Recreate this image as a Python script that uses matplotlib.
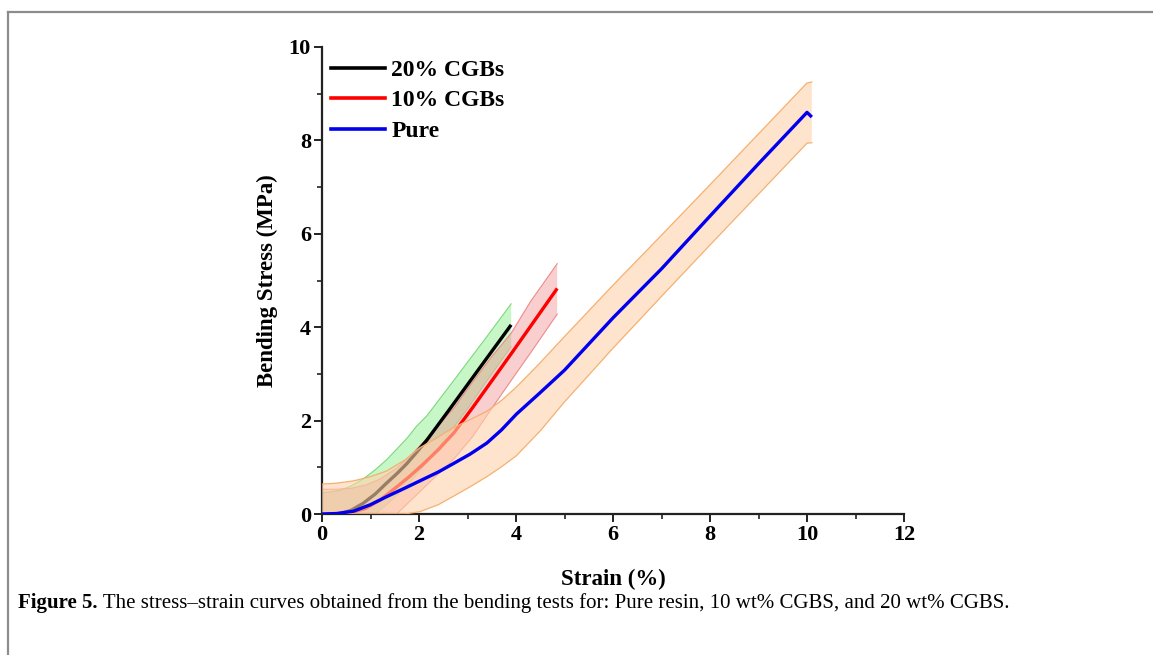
import matplotlib
matplotlib.use("Agg")
import matplotlib.pyplot as plt
from matplotlib.lines import Line2D
import numpy as np

# ---------------- data ----------------
pure_x = [0, 0.3, 0.65, 1.0, 1.33, 1.7, 2.02, 2.4, 2.71, 3.05, 3.4, 3.7, 4.01, 4.5, 5.0, 6.0, 7.0, 8.0, 9.0, 10.0, 10.1]
pure_y = [0, 0.01, 0.06, 0.2, 0.37, 0.55, 0.71, 0.9, 1.08, 1.28, 1.52, 1.8, 2.14, 2.6, 3.08, 4.2, 5.25, 6.38, 7.5, 8.6, 8.5]
pure_hi = [0.64, 0.66, 0.71, 0.8, 0.92, 1.15, 1.42, 1.65, 1.85, 2.02, 2.2, 2.43, 2.72, 3.24, 3.8, 4.9, 5.97, 7.05, 8.14, 9.23, 9.25]
pure_lo = [0, 0, 0, 0, 0, 0, 0.05, 0.2, 0.38, 0.58, 0.8, 1.01, 1.25, 1.78, 2.4, 3.55, 4.66, 5.76, 6.85, 7.94, 7.95]

c10_x = [0, 0.3, 0.6, 0.9, 1.2, 1.54, 1.8, 2.1, 2.4, 2.72, 3.1, 3.5, 3.9, 4.3, 4.85]
c10_y = [0, 0, 0.03, 0.12, 0.3, 0.58, 0.8, 1.08, 1.38, 1.74, 2.27, 2.85, 3.43, 4.02, 4.83]
c10_hi = [0.53, 0.53, 0.55, 0.62, 0.75, 0.98, 1.22, 1.55, 1.9, 2.27, 2.82, 3.37, 3.87, 4.55, 5.36]
c10_lo = [0, 0, 0, 0, 0, 0, 0.26, 0.56, 0.86, 1.18, 1.65, 2.26, 2.86, 3.45, 4.28]

c20_x = [0, 0.35, 0.6, 0.85, 1.1, 1.33, 1.55, 1.75, 1.95, 2.16, 2.6, 3.0, 3.4, 3.9]
c20_y = [0, 0, 0.08, 0.23, 0.43, 0.66, 0.87, 1.08, 1.32, 1.58, 2.2, 2.77, 3.34, 4.05]
c20_hi = [0.45, 0.5, 0.6, 0.75, 0.95, 1.16, 1.4, 1.62, 1.88, 2.1, 2.7, 3.25, 3.8, 4.5]
c20_lo = [0, 0, 0, 0, 0, 0.2, 0.4, 0.6, 0.85, 1.1, 1.7, 2.25, 2.85, 3.58]

labels = ["20% CGBs", "10% CGBs", "Pure"]
caption_bold = "Figure 5."
caption_rest = " The stress\u2013strain curves obtained from the bending tests for: Pure resin, 10 wt% CGBS, and 20 wt% CGBS."

# ---------------- figure ----------------
W, H = 1153, 655
fig = plt.figure(figsize=(W / 100, H / 100), dpi=100)
plt.rcParams['font.family'] = ['Liberation Serif', 'DejaVu Serif']

ax = fig.add_axes([322 / W, 1 - 514 / H, (904 - 322) / W, (514 - 47) / H])

# bands and lines (draw order matters)
ax.fill_between(c20_x, c20_lo, c20_hi, facecolor='#90EE90', alpha=0.5, edgecolor='none', zorder=1)
ax.plot(c20_x, c20_hi, color='#7CD97C', lw=0.8, zorder=1.1)
ax.plot(c20_x, c20_lo, color='#9CDF9C', lw=0.6, zorder=1.1)

ax.fill_between(c10_x, c10_lo, c10_hi, facecolor='#F08080', alpha=0.38, edgecolor='none', zorder=2)
ax.plot(c10_x, c10_hi, color='#EE8A8A', lw=0.8, zorder=2.1)
ax.plot(c10_x, c10_lo, color='#EE8A8A', lw=0.8, zorder=2.1)

ax.plot(c20_x, c20_y, color='black', lw=2.4, zorder=3, solid_capstyle='butt')
ax.plot(c10_x, c10_y, color='#FF0000', lw=2.4, zorder=3, solid_capstyle='butt')

ax.fill_between(pure_x, pure_lo, pure_hi, facecolor='#FFD3AC', alpha=0.6, edgecolor='none', zorder=4)
ax.plot(pure_x, pure_hi, color='#F5B070', lw=0.9, zorder=4.1)
ax.plot(pure_x, pure_lo, color='#F5B070', lw=0.9, zorder=4.1)

ax.plot(pure_x, pure_y, color='#0000EE', lw=2.4, zorder=5, solid_capstyle='butt')

ax.set_xlim(0, 12)
ax.set_ylim(0, 10)
ax.set_xticks(np.arange(0, 13, 2))
ax.set_yticks(np.arange(0, 11, 2))
ax.set_xticks(np.arange(1, 13, 2), minor=True)
ax.set_yticks(np.arange(1, 11, 2), minor=True)

for s in ['top', 'right']:
    ax.spines[s].set_visible(False)
for s in ['left', 'bottom']:
    ax.spines[s].set_linewidth(1.6)
    ax.spines[s].set_color('#222222')

ax.tick_params(which='major', direction='out', length=6, width=1.4, colors='#222222', labelsize=16, pad=2)
ax.tick_params(which='minor', direction='out', length=3.5, width=1.2, colors='#222222')
for lab in ax.get_xticklabels() + ax.get_yticklabels():
    lab.set_fontweight('bold')
    lab.set_color('black')

ax.set_xlabel("Strain (%)", fontsize=16.5, fontweight='bold', labelpad=17)
ax.set_ylabel("Bending Stress (MPa)", fontsize=16.5, fontweight='bold', labelpad=8)

handles = [Line2D([], [], color='black', lw=2.6),
           Line2D([], [], color='#FF0000', lw=2.6),
           Line2D([], [], color='#0000EE', lw=2.6)]
leg = ax.legend(handles, labels, loc='upper left', bbox_to_anchor=(-0.013, 1.009), frameon=False,
                handlelength=2.3, handletextpad=0.25, labelspacing=0.38, borderaxespad=0.3,
                prop={'weight': 'bold', 'size': 17})

# outer frame (top and left grey lines)
fig.add_artist(Line2D([8 / W, 8 / W], [0, 1 - 12 / H], transform=fig.transFigure, color='#8C8C8C', lw=1.6))
fig.add_artist(Line2D([8 / W, 1], [1 - 12 / H, 1 - 12 / H], transform=fig.transFigure, color='#8C8C8C', lw=1.6))

# caption
t1 = fig.text(18 / W, 1 - 603 / H, caption_bold, fontsize=15, fontweight='bold', va='center', ha='left')
fig.canvas.draw()
bb = t1.get_window_extent()
fig.text(bb.x1 / W, 1 - 603 / H, caption_rest, fontsize=15, va='center', ha='left')

fig.savefig("out.png", dpi=100)
